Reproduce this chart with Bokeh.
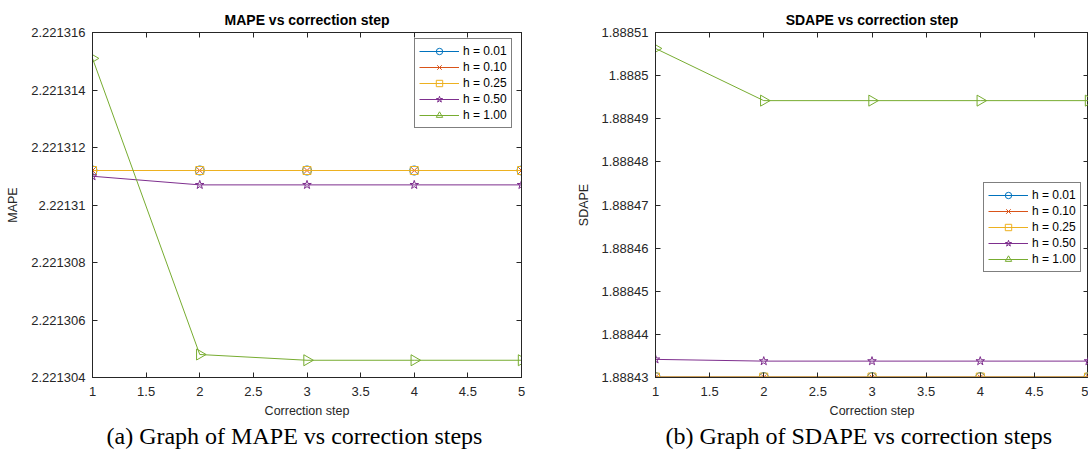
import numpy as np
from bokeh.plotting import figure
from bokeh.layouts import row
from bokeh.models import (Range1d, LinearAxis, FixedTicker, CustomJSTickFormatter,
                          Legend, LegendItem, Title)
from bokeh.embed import file_html
from bokeh.resources import INLINE

steps = [1, 2, 3, 4, 5]
h_labels = ["h = 0.01", "h = 0.10", "h = 0.25", "h = 0.50", "h = 1.00"]

mape_h001 = [2.2213112, 2.2213112, 2.2213112, 2.2213112, 2.2213112]
mape_h010 = [2.2213112, 2.2213112, 2.2213112, 2.2213112, 2.2213112]
mape_h025 = [2.2213112, 2.2213112, 2.2213112, 2.2213112, 2.2213112]
mape_h050 = [2.2213110, 2.2213107, 2.2213107, 2.2213107, 2.2213107]
mape_h100 = [2.2213151, 2.2213048, 2.2213046, 2.2213046, 2.2213046]

sdape_h001 = [1.8884301, 1.8884301, 1.8884301, 1.8884301, 1.8884301]
sdape_h010 = [1.8884301, 1.8884301, 1.8884301, 1.8884301, 1.8884301]
sdape_h025 = [1.8884301, 1.8884301, 1.8884301, 1.8884301, 1.8884301]
sdape_h050 = [1.8884342, 1.8884338, 1.8884338, 1.8884338, 1.8884338]
sdape_h100 = [1.8885063, 1.8884942, 1.8884942, 1.8884942, 1.8884942]

x_ticks = [1, 1.5, 2, 2.5, 3, 3.5, 4, 4.5, 5]
mape_ticks = [2.221304, 2.221306, 2.221308, 2.22131, 2.221312, 2.221314, 2.221316]
sdape_ticks = [1.88843, 1.88844, 1.88845, 1.88846, 1.88847, 1.88848, 1.88849, 1.8885, 1.88851]

colors = ["#0072BD", "#D95319", "#EDB120", "#7E2F8E", "#77AC30"]
markers = ["circle", "x", "square", "star", "triangle"]
msizes = [9, 7, 8, 9, 11]
angles = [0, 0, 0, 0, -np.pi / 2]

AX = "#262626"
FONT = "Liberation Sans"


def fmt(nd):
    return CustomJSTickFormatter(code="return String(parseFloat(tick.toFixed(%d)));" % nd)


def hidden_axis(ticks):
    return LinearAxis(ticker=FixedTicker(ticks=ticks), major_label_text_font_size="0px",
                      major_label_text_color=None, major_label_standoff=0,
                      major_tick_in=5, major_tick_out=0,
                      minor_tick_line_color=None, axis_line_color=AX,
                      major_tick_line_color=AX)


def make_panel(title, ylabel, series, yticks, yrange, ynd,
               caption, cap_offset, width, bl, br, legend_loc):
    p = figure(width=width, height=454, output_backend="svg", toolbar_location=None,
               x_range=Range1d(1, 5), y_range=Range1d(*yrange),
               min_border_left=bl, min_border_right=br, min_border_top=32,
               min_border_bottom=77)
    p.title.text = title
    p.title.align = "center"
    p.title.text_font = FONT
    p.title.text_font_size = "14px"
    p.title.text_font_style = "bold"
    p.title.text_color = "black"
    p.xgrid.visible = False
    p.ygrid.visible = False
    p.outline_line_color = AX
    p.outline_line_width = 1
    p.background_fill_color = "white"
    p.border_fill_color = "white"

    for ax in [p.xaxis[0], p.yaxis[0]]:
        ax.axis_line_color = AX
        ax.major_tick_line_color = AX
        ax.minor_tick_line_color = None
        ax.major_tick_in = 5
        ax.major_tick_out = 0
        ax.major_label_text_font = FONT
        ax.major_label_text_font_size = "13px"
        ax.major_label_text_color = AX
        ax.axis_label_text_font = FONT
        ax.axis_label_text_font_size = "12.5px"
        ax.axis_label_text_font_style = "normal"
        ax.axis_label_text_color = AX
    p.xaxis[0].ticker = FixedTicker(ticks=x_ticks)
    p.xaxis[0].formatter = fmt(6)
    p.xaxis[0].axis_label = "Correction step"
    p.xaxis[0].major_label_standoff = 9
    p.xaxis[0].axis_label_standoff = 5
    p.yaxis[0].ticker = FixedTicker(ticks=yticks)
    p.yaxis[0].formatter = fmt(ynd)
    p.yaxis[0].axis_label = ylabel
    p.yaxis[0].major_label_standoff = 7
    p.yaxis[0].axis_label_standoff = 8

    p.add_layout(hidden_axis(x_ticks), "above")
    p.add_layout(hidden_axis(yticks), "right")

    items = []
    for ys, lab, c, m, ms, ang in zip(series, h_labels, colors, markers, msizes, angles):
        l = p.line(steps, ys, line_color=c, line_width=1)
        s = p.scatter(steps, ys, marker=m, size=ms, angle=ang, line_color=c,
                      fill_color=None, line_width=1)
        items.append(LegendItem(label=lab, renderers=[l, s]))
    leg = Legend(items=items, location=legend_loc, label_text_font=FONT,
                 label_text_font_size="12px", label_text_color="black",
                 glyph_width=40, glyph_height=16, label_height=16, spacing=0,
                 padding=4, margin=0, label_standoff=4,
                 border_line_color="black", border_line_width=1,
                 background_fill_color="white", background_fill_alpha=1)
    p.add_layout(leg)

    cap = Title(text=caption, align="left", offset=cap_offset, standoff=0,
                text_font="Liberation Serif", text_font_size="24px",
                text_font_style="normal", text_color="black")
    p.add_layout(cap, "below")
    return p


p1 = make_panel("MAPE vs correction step", "MAPE",
                [mape_h001, mape_h010, mape_h025, mape_h050, mape_h100],
                mape_ticks, (2.221304, 2.221316), 6,
                "(a) Graph of MAPE vs correction steps", 14,
                560, 92, 39, (322, 249))
p2 = make_panel("SDAPE vs correction step", "SDAPE",
                [sdape_h001, sdape_h010, sdape_h025, sdape_h050, sdape_h100],
                sdape_ticks, (1.88843, 1.88851), 5,
                "(b) Graph of SDAPE vs correction steps", 10,
                528, 95, 0, (328, 105))

layout = row(p1, p2)
open("out.html", "w").write(file_html(layout, INLINE))
